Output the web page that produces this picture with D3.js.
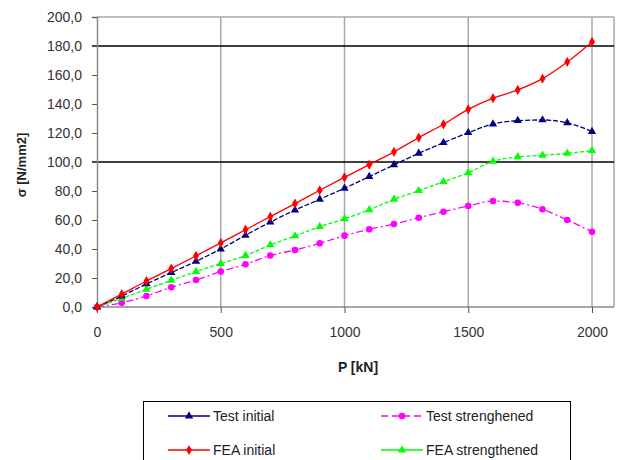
<!DOCTYPE html>
<html lang="en">
<head>
    <meta charset="UTF-8">
    <title>Stress vs load</title>
    <script src="https://d3js.org/d3.v7.min.js"></script>
    <style>
        body { margin: 0; background: #fff; }
        text { font-family: "Liberation Sans", Arial, sans-serif; }
    </style>
</head>
<body>
    <svg width="619" height="460"></svg>

    <script>
        // Load steps P [kN]
        const loads = [0, 100, 200, 300, 400, 500, 600, 700, 800, 900, 1000,
                       1100, 1200, 1300, 1400, 1500, 1600, 1700, 1800, 1900, 2000];

        // Stress values sigma [N/mm2]
        const testInitial = [0, 7.5, 15.9, 23.7, 31.5, 40, 49.5, 58.5, 66.9, 74.3, 81.9,
                             89.9, 98, 106, 113.3, 120.2, 126.2, 128.5, 129, 127, 121];
        const feaInitial = [0, 8.9, 17.9, 26.5, 35.3, 44.2, 53.3, 62.3, 71.3, 80.5, 89.4,
                            98.2, 107, 116.8, 126, 136.3, 144, 149.7, 157.5, 169, 182.8];
        const testStrengthened = [0, 3, 7.6, 13.6, 18.6, 24.4, 29.4, 35.5, 39.3, 43.9, 49.2,
                                  53.6, 57.2, 61.6, 65.7, 69.7, 73.1, 71.9, 67.4, 60, 51.9];
        const feaStrengthened = [0, 6, 12.2, 18.4, 24.4, 30, 35.5, 42.8, 49, 55.4, 60.8,
                                 67, 74.3, 80.2, 86.4, 92.6, 100.5, 103.5, 104.6, 106, 107.8];

        const xTicks = [0, 500, 1000, 1500, 2000];
        const yTicks = [0, 20, 40, 60, 80, 100, 120, 140, 160, 180, 200];
        const blackLines = [100, 180];

        const series = [
            { name: "Test initial", values: testInitial, color: "#000080", marker: "triangle", dash: "5,2" },
            { name: "Test strenghened", values: testStrengthened, color: "#ff00ff", marker: "circle", dash: "7,3,2,3" },
            { name: "FEA initial", values: feaInitial, color: "#ff0000", marker: "diamond", dash: null },
            { name: "FEA strengthened", values: feaStrengthened, color: "#00ff00", marker: "triangle", dash: "4,2" }
        ];

        const svg = d3.select("svg");
        const plot = { left: 97, right: 592, top: 17, bottom: 307, frameRight: 614 };

        const x = d3.scaleLinear().domain([0, 2000]).range([plot.left, plot.right]);
        const y = d3.scaleLinear().domain([0, 200]).range([plot.bottom, plot.top]);

        // vertical grid
        svg.append("g").selectAll("line").data(xTicks.slice(1)).join("line")
            .attr("x1", d => x(d)).attr("x2", d => x(d))
            .attr("y1", plot.top).attr("y2", plot.bottom)
            .attr("stroke", "#a8a8a8").attr("stroke-width", 1.5);

        // frame top and right
        svg.append("line").attr("x1", plot.left).attr("x2", plot.frameRight)
            .attr("y1", plot.top).attr("y2", plot.top)
            .attr("stroke", "#a8a8a8").attr("stroke-width", 1.5);
        svg.append("line").attr("x1", plot.frameRight).attr("x2", plot.frameRight)
            .attr("y1", plot.top).attr("y2", plot.bottom)
            .attr("stroke", "#a8a8a8").attr("stroke-width", 1.5);

        // black horizontal lines
        svg.append("g").selectAll("line").data(blackLines).join("line")
            .attr("x1", plot.left - 5).attr("x2", plot.frameRight)
            .attr("y1", d => y(d)).attr("y2", d => y(d))
            .attr("stroke", "#000").attr("stroke-width", 1.5);

        // axes
        const yAxis = svg.append("g")
            .attr("transform", `translate(${plot.left},0)`)
            .call(d3.axisLeft(y).tickValues(yTicks).tickSize(5).tickPadding(10)
                .tickFormat(d => d3.format(".1f")(d).replace(".", ",")));
        const xAxis = svg.append("g")
            .attr("transform", `translate(0,${plot.bottom})`)
            .call(d3.axisBottom(x).tickValues(xTicks).tickSize(6).tickPadding(14)
                .tickFormat(d3.format("d")));

        [yAxis, xAxis].forEach(g => {
            g.select(".domain").attr("stroke", "#8a8a8a").attr("stroke-width", 1.5);
            g.selectAll(".tick line").attr("stroke", "#555");
            g.selectAll(".tick text").attr("fill", "#333").style("font-size", "14px")
                .style("font-family", "'Liberation Sans', Arial, sans-serif");
        });
        xAxis.select(".domain").attr("d", `M${plot.left},0H${plot.frameRight}`);

        // axis titles
        svg.append("text")
            .attr("transform", "translate(26,165) rotate(-90)")
            .attr("text-anchor", "middle")
            .attr("font-size", 13).attr("font-weight", "bold").attr("fill", "#222")
            .text("σ  [N/mm2]");
        svg.append("text")
            .attr("x", 358).attr("y", 372)
            .attr("text-anchor", "middle")
            .attr("font-size", 14).attr("font-weight", "bold").attr("fill", "#222")
            .text("P [kN]");

        // marker shapes
        const symbols = {
            triangle: d3.symbol(d3.symbolTriangle, 30),
            circle: d3.symbol(d3.symbolCircle, 34),
            diamond: d3.symbol(d3.symbolDiamond, 30)
        };

        const line = d3.line().x(d => x(d[0])).y(d => y(d[1])).curve(d3.curveMonotoneX);

        // draw back to front
        const order = [series[1], series[3], series[0], series[2]];
        order.forEach(s => {
            const pts = loads.map((p, i) => [p, s.values[i]]);
            svg.append("path")
                .datum(pts)
                .attr("fill", "none")
                .attr("stroke", s.color)
                .attr("stroke-width", 1.3)
                .attr("stroke-dasharray", s.dash)
                .attr("d", line);
            svg.append("g").selectAll("path").data(pts).join("path")
                .attr("transform", d => `translate(${x(d[0])},${y(d[1])})`)
                .attr("d", symbols[s.marker])
                .attr("fill", s.color);
        });

        // legend
        const legend = svg.append("g");
        legend.append("rect")
            .attr("x", 143.5).attr("y", 401.5).attr("width", 427).attr("height", 70)
            .attr("fill", "#fff").attr("stroke", "#000").attr("stroke-width", 1);

        const legendPos = [
            { s: series[0], x: 168, y: 416 },
            { s: series[1], x: 381, y: 416 },
            { s: series[2], x: 168, y: 450 },
            { s: series[3], x: 381, y: 450 }
        ];
        legendPos.forEach(({ s, x: lx, y: ly }) => {
            legend.append("line")
                .attr("x1", lx).attr("x2", lx + 42).attr("y1", ly).attr("y2", ly)
                .attr("stroke", s.color).attr("stroke-width", 1.3)
                .attr("stroke-dasharray", s.name === "Test strenghened" ? "7,4" : null);
            legend.append("path")
                .attr("transform", `translate(${lx + 21},${ly})`)
                .attr("d", symbols[s.marker])
                .attr("fill", s.color);
            legend.append("text")
                .attr("x", lx + 45).attr("y", ly + 5)
                .attr("font-size", 14).attr("fill", "#222")
                .text(s.name);
        });
    </script>
</body>
</html>
